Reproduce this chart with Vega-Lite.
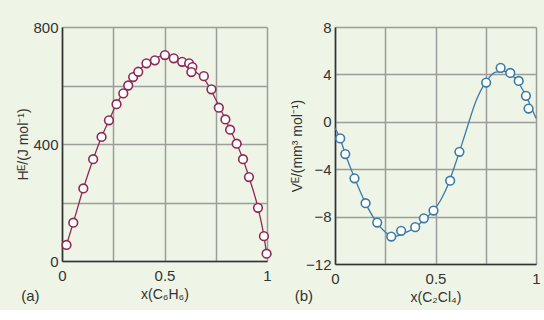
{
  "$schema": "https://vega.github.io/schema/vega-lite/v6.json",
  "background": "#eef5e6",
  "padding": {"left": 16, "top": 20, "right": 4, "bottom": 5},
  "spacing": 15,
  "config": {
    "view": {"stroke": null},
    "font": "Liberation Sans",
    "axis": {
      "gridColor": "#9c9c9c", "gridWidth": 1.5, "gridOpacity": 1,
      "domainColor": "#333333", "domainWidth": 1.6,
      "ticks": false,
      "labelColor": "#333333", "labelFontSize": 15, "labelFont": "Liberation Sans",
      "titleColor": "#333333", "titleFontSize": 14, "titleFontWeight": "normal", "titleFont": "Liberation Sans"
    }
  },
  "datasets": {
    "pa": [
      {"x": 0.022, "y": 55}, {"x": 0.055, "y": 131}, {"x": 0.104, "y": 248}, {"x": 0.152, "y": 348},
      {"x": 0.193, "y": 424}, {"x": 0.229, "y": 481}, {"x": 0.266, "y": 536}, {"x": 0.299, "y": 573},
      {"x": 0.323, "y": 600}, {"x": 0.347, "y": 629}, {"x": 0.372, "y": 647}, {"x": 0.412, "y": 676},
      {"x": 0.453, "y": 686}, {"x": 0.502, "y": 704}, {"x": 0.545, "y": 693}, {"x": 0.586, "y": 681},
      {"x": 0.62, "y": 676}, {"x": 0.636, "y": 663}, {"x": 0.631, "y": 646}, {"x": 0.692, "y": 632},
      {"x": 0.729, "y": 587}, {"x": 0.765, "y": 524}, {"x": 0.797, "y": 484}, {"x": 0.82, "y": 449},
      {"x": 0.852, "y": 401}, {"x": 0.883, "y": 348}, {"x": 0.912, "y": 287}, {"x": 0.956, "y": 182},
      {"x": 0.985, "y": 85}, {"x": 0.998, "y": 25}
    ],
    "ca": [
      {"x": 0.022, "y": 55}, {"x": 0.055, "y": 131}, {"x": 0.104, "y": 248}, {"x": 0.152, "y": 348},
      {"x": 0.193, "y": 424}, {"x": 0.229, "y": 481}, {"x": 0.266, "y": 536}, {"x": 0.3, "y": 578},
      {"x": 0.35, "y": 630}, {"x": 0.4, "y": 668}, {"x": 0.45, "y": 692}, {"x": 0.5, "y": 702},
      {"x": 0.55, "y": 694}, {"x": 0.6, "y": 675}, {"x": 0.65, "y": 648}, {"x": 0.7, "y": 616},
      {"x": 0.75, "y": 552}, {"x": 0.8, "y": 480}, {"x": 0.85, "y": 404}, {"x": 0.883, "y": 348},
      {"x": 0.912, "y": 287}, {"x": 0.956, "y": 182}, {"x": 0.985, "y": 85}, {"x": 0.998, "y": 25}
    ],
    "pb": [
      {"x": 0.026, "y": -1.4}, {"x": 0.051, "y": -2.72}, {"x": 0.097, "y": -4.77}, {"x": 0.152, "y": -6.87},
      {"x": 0.21, "y": -8.5}, {"x": 0.28, "y": -9.68}, {"x": 0.329, "y": -9.2}, {"x": 0.399, "y": -8.89},
      {"x": 0.442, "y": -8.14}, {"x": 0.49, "y": -7.49}, {"x": 0.573, "y": -4.97}, {"x": 0.619, "y": -2.53},
      {"x": 0.752, "y": 3.31}, {"x": 0.824, "y": 4.55}, {"x": 0.872, "y": 4.12}, {"x": 0.914, "y": 3.45},
      {"x": 0.95, "y": 2.19}, {"x": 0.963, "y": 1.12}
    ],
    "cb": [
      {"x": 0.0, "y": -0.5}, {"x": 0.026, "y": -1.45}, {"x": 0.05, "y": -2.65}, {"x": 0.1, "y": -4.85},
      {"x": 0.15, "y": -6.8}, {"x": 0.2, "y": -8.3}, {"x": 0.25, "y": -9.3}, {"x": 0.29, "y": -9.7},
      {"x": 0.33, "y": -9.5}, {"x": 0.4, "y": -8.9}, {"x": 0.45, "y": -8.15}, {"x": 0.5, "y": -7.3},
      {"x": 0.55, "y": -5.8}, {"x": 0.6, "y": -3.5}, {"x": 0.65, "y": -0.9}, {"x": 0.7, "y": 1.7},
      {"x": 0.75, "y": 3.35}, {"x": 0.8, "y": 4.2}, {"x": 0.85, "y": 4.25}, {"x": 0.9, "y": 3.6},
      {"x": 0.95, "y": 2.2}, {"x": 1.0, "y": 0.3}
    ],
    "la": [{"t": "(a)", "x": -0.154, "y": -120}],
    "lb": [{"t": "(b)", "x": -0.155, "y": -14.7}]
  },
  "hconcat": [
    {
      "width": 205, "height": 234,
      "encoding": {
        "x": {"field": "x", "type": "quantitative", "scale": {"domain": [0, 1], "nice": false},
          "axis": {"values": [0, 0.25, 0.5, 0.75, 1], "labelExpr": "datum.value == 0.5 ? '0.5' : (datum.value == 0 ? '0' : (datum.value == 1 ? '1' : ''))", "labelPadding": 7, "titlePadding": 4, "title": "x(C₆H₆)", "labelFlush": false}},
        "y": {"field": "y", "type": "quantitative", "scale": {"domain": [0, 800], "nice": false},
          "axis": {"values": [0, 200, 400, 600, 800], "labelExpr": "datum.value % 400 == 0 ? datum.label : ''", "labelPadding": 4, "titlePadding": 2, "title": "Hᴱ/(J mol⁻¹)", "labelFlush": false, "format": "d"}}
      },
      "layer": [
        {"data": {"name": "ca"}, "mark": {"type": "line", "color": "#8e2a55", "strokeWidth": 1.3, "interpolate": "monotone"}},
        {"data": {"name": "pa"}, "mark": {"type": "point", "shape": "circle", "filled": true, "fill": "white", "stroke": "#8e2a55", "strokeWidth": 1.6, "size": 75, "opacity": 1}},
        {"data": {"name": "la"}, "mark": {"type": "text", "clip": false, "fontSize": 15, "color": "#333333", "font": "Liberation Sans"}, "encoding": {"text": {"field": "t"}}}
      ]
    },
    {
      "width": 201, "height": 237,
      "encoding": {
        "x": {"field": "x", "type": "quantitative", "scale": {"domain": [0, 1], "nice": false},
          "axis": {"values": [0, 0.25, 0.5, 0.75, 1], "labelExpr": "datum.value == 0.5 ? '0.5' : (datum.value == 0 ? '0' : (datum.value == 1 ? '1' : ''))", "labelPadding": 7, "titlePadding": 4, "title": "x(C₂Cl₄)", "labelFlush": false}},
        "y": {"field": "y", "type": "quantitative", "scale": {"domain": [-12, 8], "nice": false},
          "axis": {"values": [-12, -8, -4, 0, 4, 8], "labelPadding": 4, "titlePadding": 1, "title": "Vᴱ/(mm³ mol⁻¹)", "labelFlush": false}}
      },
      "layer": [
        {"data": {"name": "cb"}, "mark": {"type": "line", "color": "#3c7ba6", "strokeWidth": 1.3, "interpolate": "monotone"}},
        {"data": {"name": "pb"}, "mark": {"type": "point", "shape": "circle", "filled": true, "fill": "white", "stroke": "#3c7ba6", "strokeWidth": 1.6, "size": 75, "opacity": 1}},
        {"data": {"name": "lb"}, "mark": {"type": "text", "clip": false, "fontSize": 15, "color": "#333333", "font": "Liberation Sans"}, "encoding": {"text": {"field": "t"}}}
      ]
    }
  ]
}
